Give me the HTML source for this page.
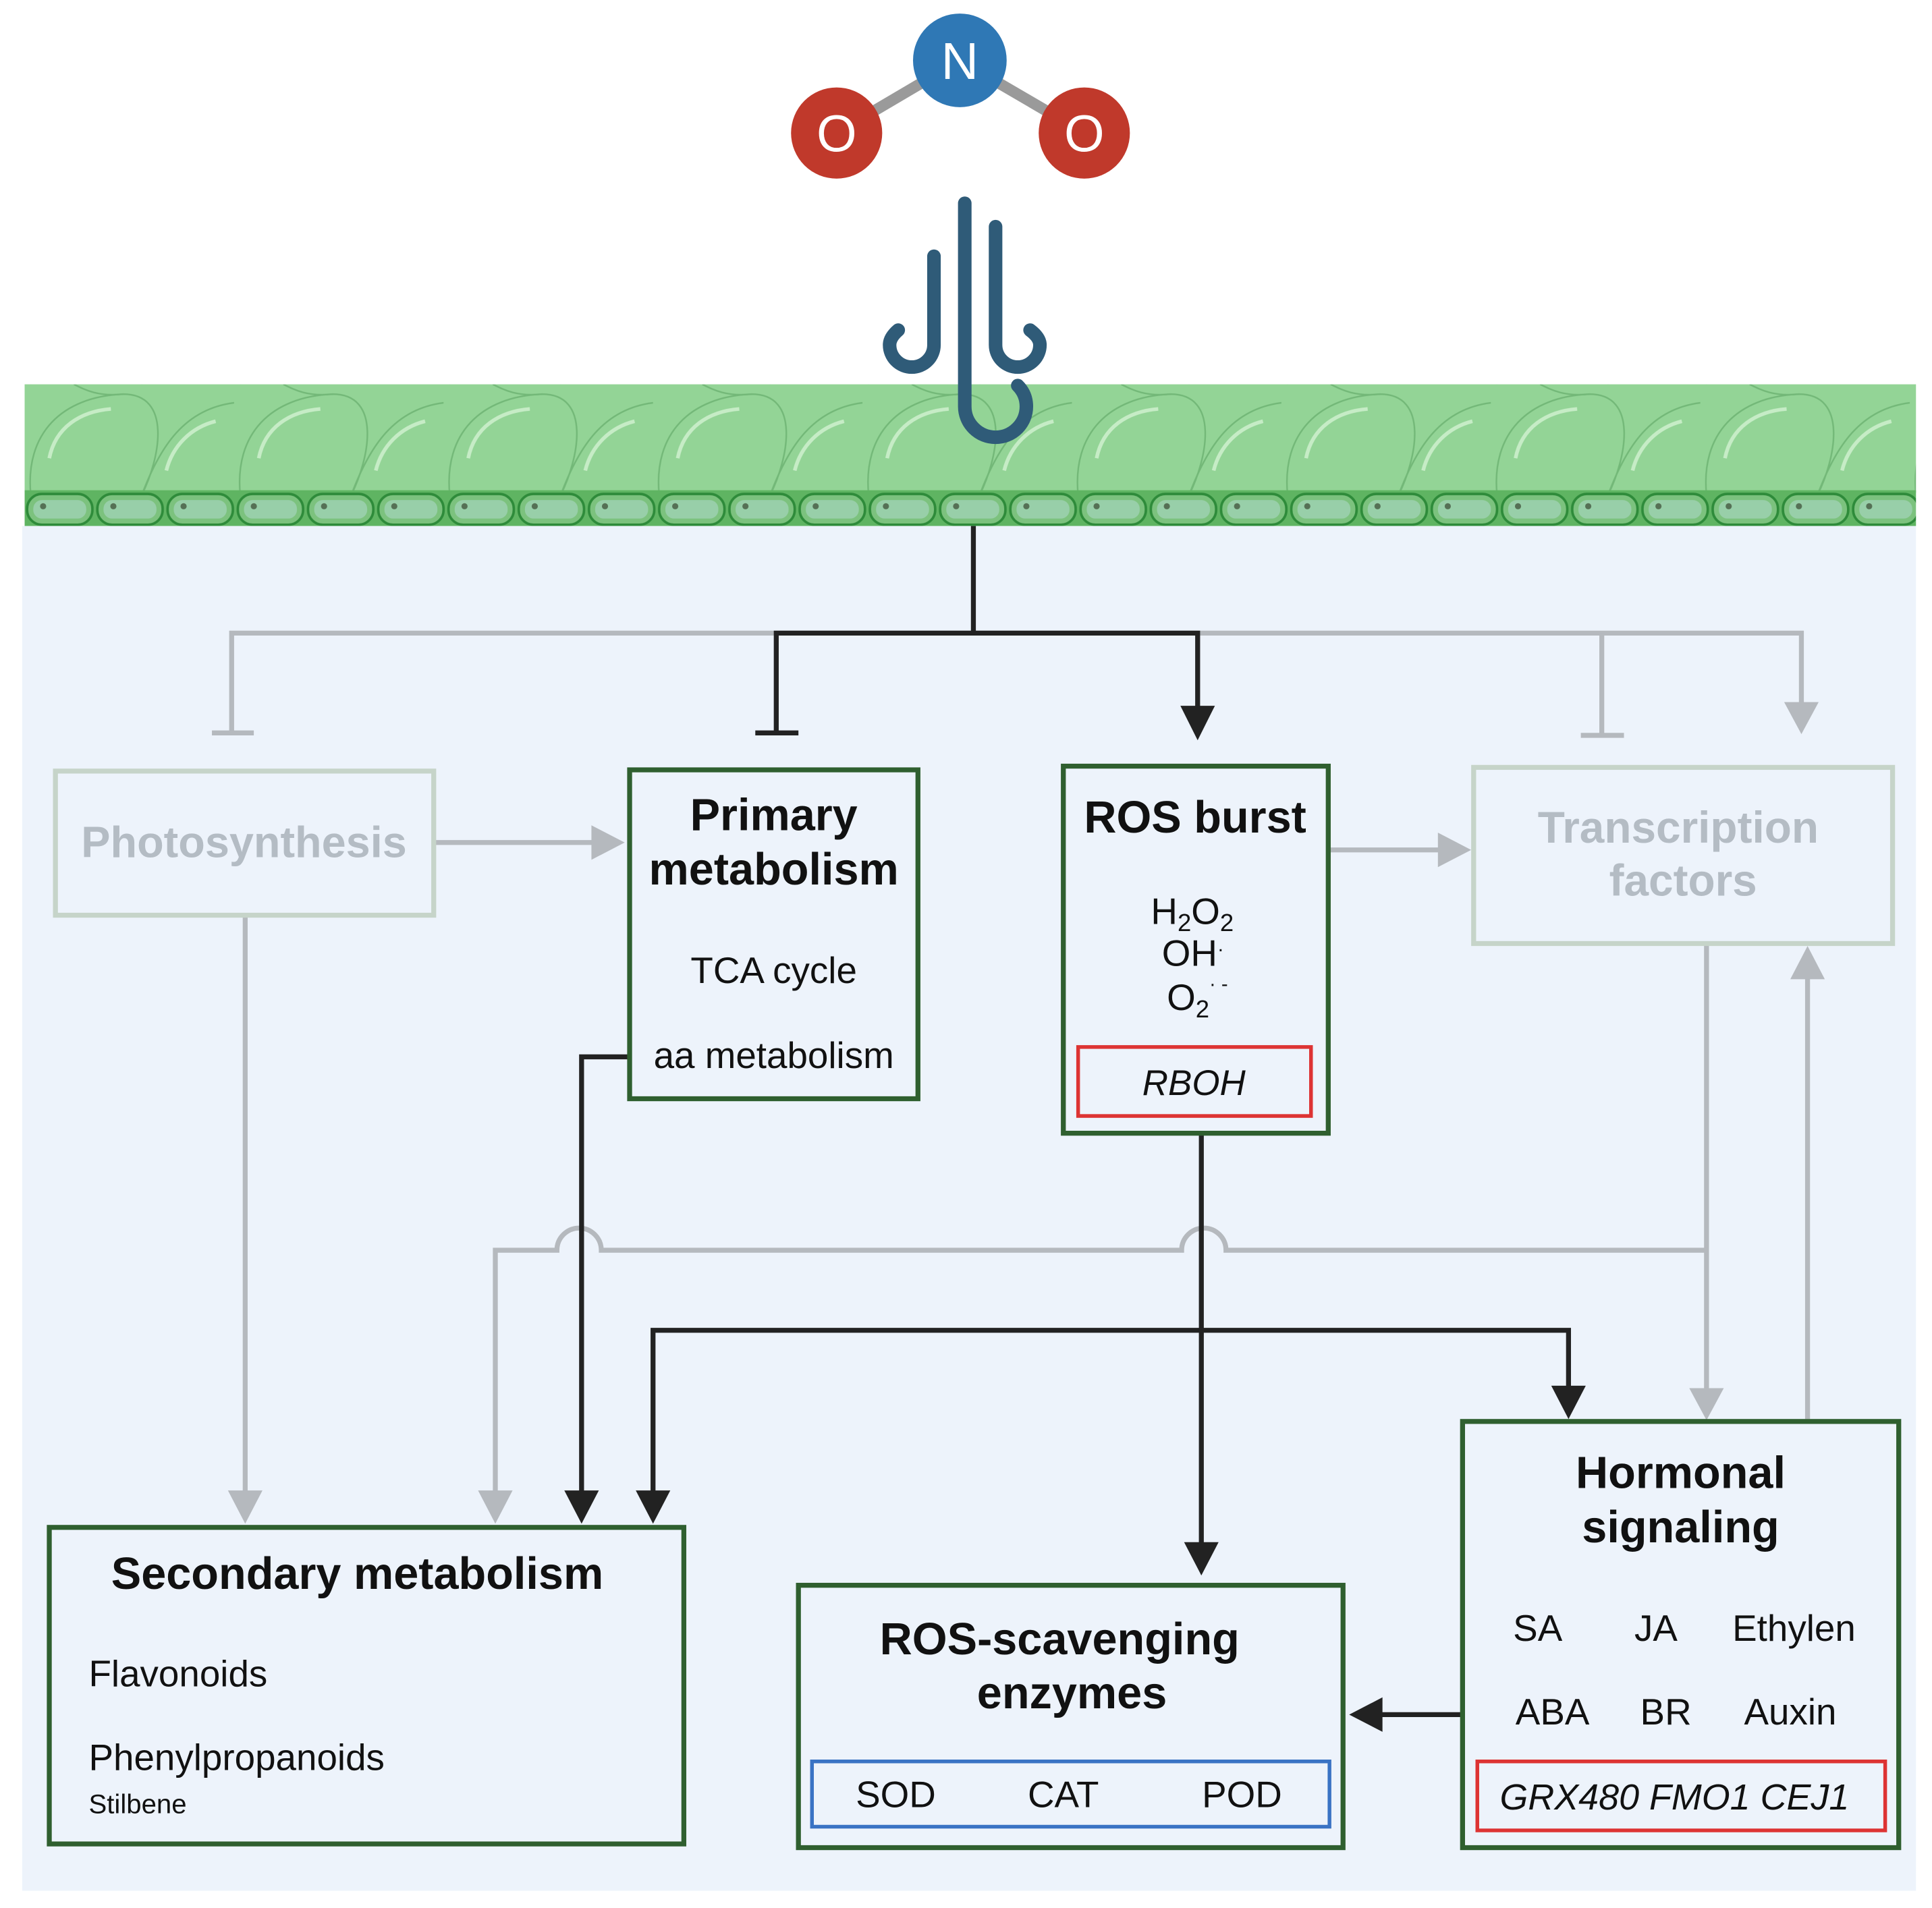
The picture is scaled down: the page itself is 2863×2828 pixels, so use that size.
<!DOCTYPE html>
<html><head><meta charset="utf-8"><style>
html,body{margin:0;padding:0;background:#fff}
svg{display:block}
text{font-family:"Liberation Sans",sans-serif}
</style></head><body>
<svg width="2863" height="2828" viewBox="0 0 1568 1549" preserveAspectRatio="none" xmlns="http://www.w3.org/2000/svg">
<defs>
<pattern id="cells" x="20" y="312" width="170" height="90" patternUnits="userSpaceOnUse">
<rect width="170" height="90" fill="#93d496"/>
<path d="M5,90 C0,40 30,10 80,8 C120,8 110,60 95,90" fill="none" stroke="#73b878" stroke-width="1.3"/>
<path d="M95,90 C110,50 130,20 170,15" fill="none" stroke="#73b878" stroke-width="1.3"/>
<path d="M40,0 C50,5 60,10 80,8" fill="none" stroke="#73b878" stroke-width="1.3"/>
<path d="M20,60 C25,35 45,22 70,20" fill="none" stroke="#c6ecc6" stroke-width="3"/>
<path d="M115,70 C120,50 135,35 155,30" fill="none" stroke="#c6ecc6" stroke-width="3"/>
</pattern>
<pattern id="bcells" x="20" y="398" width="57" height="30" patternUnits="userSpaceOnUse">
<rect width="57" height="30" fill="#5fb462"/>
<rect x="2" y="3" width="53" height="25" rx="12" fill="#7cc27e" stroke="#2e8b3a" stroke-width="2"/>
<rect x="7" y="8" width="43" height="15" rx="7" fill="#98cfa9"/>
<circle cx="15" cy="13" r="2.5" fill="#557055"/>
</pattern>
</defs>
<rect x="18" y="427" width="1537" height="1108" fill="#edf3fb"/>
<rect x="20" y="312" width="1535" height="88" fill="url(#cells)"/>
<rect x="20" y="398" width="1535" height="29" fill="url(#bcells)"/>
<!-- molecule -->
<line x1="679" y1="108" x2="779" y2="49" stroke="#9a9a9a" stroke-width="9"/>
<line x1="880" y1="108" x2="779" y2="49" stroke="#9a9a9a" stroke-width="9"/>
<circle cx="779" cy="49" r="38" fill="#2f78b5"/>
<circle cx="679" cy="108" r="37" fill="#c0392b"/>
<circle cx="880" cy="108" r="37" fill="#c0392b"/>
<text x="779" y="64" font-size="42" fill="#fff" text-anchor="middle">N</text>
<text x="679" y="123" font-size="42" fill="#fff" text-anchor="middle">O</text>
<text x="880" y="123" font-size="42" fill="#fff" text-anchor="middle">O</text>
<!-- hooks -->
<g fill="none" stroke="#2f5b78" stroke-width="11" stroke-linecap="round">
<path d="M783,165 V330 A25,25 0 0 0 833,330 Q833,320 826,313"/>
<path d="M758,208 V280 A18,18 0 0 1 722,280 Q722,274 729,268"/>
<path d="M808,184 V280 A18,18 0 0 0 844,280 Q844,274 836,268"/>
</g>
<!-- gray connectors -->
<g fill="none" stroke="#b5b9be" stroke-width="4">
<path d="M188,595 V514 H1462 V575"/>
<line x1="172" y1="595" x2="206" y2="595"/>
<path d="M1300,514 V597"/><line x1="1283" y1="597" x2="1318" y2="597"/>
<path d="M353,684 H485"/>
<path d="M1080,690 H1172"/>
<path d="M199,744 V1215"/>
<path d="M1385,767 V1132"/>
<path d="M1467,1152 V790"/>
<path d="M1385,1015 H995 A18,18 0 0 0 959,1015 H488 A18,18 0 0 0 452,1015 H402 V1215"/>
</g>
<g fill="#b5b9be">
<polygon points="1448,570 1476,570 1462,596"/>
<polygon points="480,670 480,698 507,684"/>
<polygon points="1167,676 1167,704 1194,690"/>
<polygon points="185,1210 213,1210 199,1237"/>
<polygon points="388,1210 416,1210 402,1237"/>
<polygon points="1371,1127 1399,1127 1385,1153"/>
<polygon points="1453,795 1481,795 1467,768"/>
</g>
<!-- black connectors -->
<g fill="none" stroke="#222" stroke-width="4">
<path d="M790,427 V514 H630 V595"/><line x1="613" y1="595" x2="648" y2="595"/>
<path d="M790,514 H972 V575"/>
<path d="M511,858 H472 V1212"/>
<path d="M530,1212 V1080 H1273 V1128"/>
<path d="M975,920 V1255"/>
<path d="M1187,1392 H1118"/>
</g>
<g fill="#222">
<polygon points="958,573 986,573 972,601"/>
<polygon points="458,1210 486,1210 472,1237"/>
<polygon points="516,1210 544,1210 530,1237"/>
<polygon points="1259,1125 1287,1125 1273,1152"/>
<polygon points="961,1252 989,1252 975,1279"/>
<polygon points="1122,1378 1122,1406 1095,1392"/>
</g>
<!-- boxes -->
<rect x="45" y="626" width="307" height="117" fill="#edf3fb" stroke="#c6d4c9" stroke-width="4"/>
<text x="198" y="696" font-size="35.5" font-weight="bold" fill="#b4bcc4" text-anchor="middle">Photosynthesis</text>
<rect x="1196" y="623" width="340" height="143" fill="#edf3fb" stroke="#c6d4c9" stroke-width="4"/>
<text x="1362" y="684" font-size="36" font-weight="bold" fill="#b4bcc4" text-anchor="middle">Transcription</text>
<text x="1366" y="727" font-size="36" font-weight="bold" fill="#b4bcc4" text-anchor="middle">factors</text>
<g fill="#edf3fb" stroke="#2f5f2f" stroke-width="4">
<rect x="511" y="625" width="234" height="267"/>
<rect x="863" y="622" width="215" height="298"/>
<rect x="40" y="1240" width="515" height="257"/>
<rect x="648" y="1287" width="442" height="213"/>
<rect x="1187" y="1154" width="354" height="346"/>
</g>
<g font-size="36.5" font-weight="bold" fill="#111" text-anchor="middle">
<text x="628" y="674">Primary</text>
<text x="628" y="718">metabolism</text>
<text x="970" y="676">ROS burst</text>
<text x="290" y="1290">Secondary metabolism</text>
<text x="860" y="1343">ROS-scavenging</text>
<text x="870" y="1387">enzymes</text>
<text x="1364" y="1208">Hormonal</text>
<text x="1364" y="1252">signaling</text>
</g>
<g font-size="30" fill="#111">
<text x="628" y="798" text-anchor="middle">TCA cycle</text>
<text x="628" y="867" text-anchor="middle">aa metabolism</text>
<text x="934" y="750">H<tspan font-size="20" dy="6">2</tspan><tspan dy="-6">O</tspan><tspan font-size="20" dy="6">2</tspan></text>
<text x="943" y="784">OH<tspan font-size="16" dy="-8">·</tspan></text>
<text x="947" y="820">O<tspan font-size="20" dy="6">2</tspan><tspan font-size="16" dy="-22">· -</tspan></text>
<text x="72" y="1369">Flavonoids</text>
<text x="72" y="1437">Phenylpropanoids</text>
<text x="72" y="1472" font-size="22">Stilbene</text>
<text x="1248" y="1332" text-anchor="middle">SA</text>
<text x="1344" y="1332" text-anchor="middle">JA</text>
<text x="1456" y="1332" text-anchor="middle">Ethylen</text>
<text x="1260" y="1400" text-anchor="middle">ABA</text>
<text x="1352" y="1400" text-anchor="middle">BR</text>
<text x="1453" y="1400" text-anchor="middle">Auxin</text>
</g>
<rect x="875" y="850" width="189" height="56" fill="none" stroke="#d33" stroke-width="3"/>
<text x="969" y="889" font-size="29" font-style="italic" fill="#111" text-anchor="middle">RBOH</text>
<rect x="659" y="1430" width="420" height="53" fill="none" stroke="#3a73c4" stroke-width="3"/>
<g font-size="30" fill="#111" text-anchor="middle">
<text x="727" y="1467">SOD</text><text x="863" y="1467">CAT</text><text x="1008" y="1467">POD</text>
</g>
<rect x="1199" y="1430" width="331" height="56" fill="none" stroke="#d33" stroke-width="3"/>
<text x="1359" y="1469" font-size="29.5" font-style="italic" fill="#111" text-anchor="middle">GRX480  FMO1 CEJ1</text>
</svg>
</body></html>
